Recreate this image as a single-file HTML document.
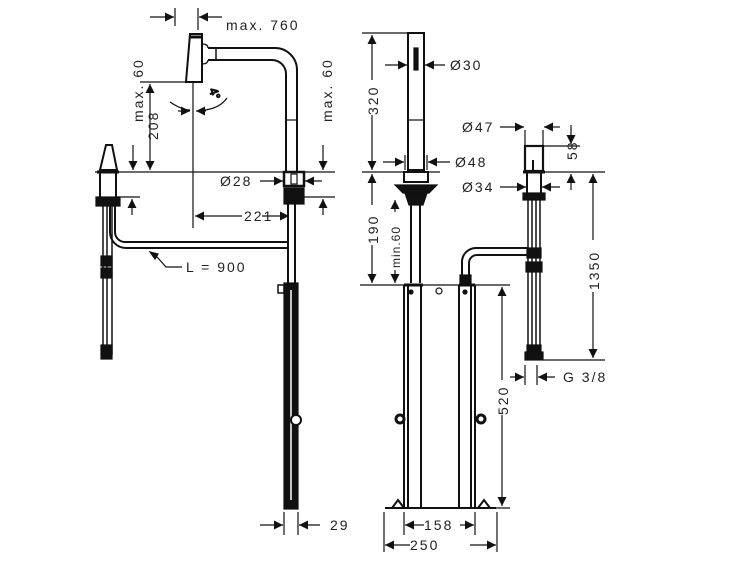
<!DOCTYPE html>
<html><head><style>html,body{margin:0;padding:0;background:#fff}svg{display:block}text{font-family:"Liberation Sans",sans-serif;font-size:14px;fill:#222;letter-spacing:2px}</style></head>
<body>
<svg width="750" height="563" viewBox="0 0 750 563" xmlns="http://www.w3.org/2000/svg">
<defs>
<marker id="a" viewBox="0 0 10 10" refX="10" refY="5" markerWidth="9" markerHeight="9" orient="auto-start-reverse" markerUnits="userSpaceOnUse"><path d="M0,0L10,5L0,10z" fill="#111"/></marker>
</defs>
<g stroke="#111" stroke-width="1.2" fill="none">
<line x1="175" y1="8" x2="175" y2="26"/><line x1="198" y1="8" x2="198" y2="30"/>
<line x1="150" y1="17" x2="174" y2="17" marker-end="url(#a)"/>
<line x1="222" y1="17" x2="199" y2="17" marker-end="url(#a)"/>
<!-- spout head -->
<path d="M190,34h12v48h-16z" stroke-width="2"/>
<line x1="190" y1="37" x2="202" y2="37" stroke-width="3"/>
<path d="M202,44q6,0 6,4M202,64q6,0 6,-4" />
<path d="M208,48H275a22,22 0 0 1 22,22V172M208,60H272a14,14 0 0 1 14,14V172" stroke-width="2"/>
<line x1="216" y1="48" x2="216" y2="60" stroke-width="1.5"/>
<line x1="286" y1="120" x2="297" y2="120"/>
<line x1="193" y1="82" x2="193" y2="228"/>
<path d="M170,102q12,8 20,8M205,110q15,-2 22,-12" />
<line x1="178" y1="111" x2="190" y2="111" marker-end="url(#a)"/>
<line x1="206" y1="111" x2="196" y2="111" marker-end="url(#a)"/>
<text x="210" y="96" transform="rotate(70 214 92)" style="font-size:12px;letter-spacing:0">4°</text>
<line x1="95" y1="172" x2="335" y2="172"/>
<line x1="140" y1="82" x2="195" y2="82"/>
<line x1="150" y1="84" x2="150" y2="170" marker-start="url(#a)" marker-end="url(#a)"/>
<line x1="133" y1="145" x2="133" y2="170" marker-end="url(#a)"/>
<line x1="323" y1="145" x2="323" y2="170" marker-end="url(#a)"/>
<line x1="323" y1="215" x2="323" y2="199" marker-end="url(#a)"/>
<line x1="303" y1="197" x2="335" y2="197"/>
<line x1="132" y1="215" x2="132" y2="199" marker-end="url(#a)"/>
<line x1="117" y1="197" x2="140" y2="197"/>
<rect x="284" y="172" width="20" height="14" stroke-width="2.5"/>
<rect x="291" y="174" width="6" height="10" />
<rect x="284" y="188" width="20" height="16" fill="#111"/>
<line x1="260" y1="181" x2="283" y2="181" marker-end="url(#a)"/>
<line x1="322" y1="181" x2="305" y2="181" marker-end="url(#a)"/>
<line x1="195" y1="216" x2="242" y2="216" marker-start="url(#a)"/>
<line x1="262" y1="216" x2="289" y2="216" marker-end="url(#a)"/>
<path d="M288,204V285M295,204V285" stroke-width="2"/>
<rect x="284" y="283" width="14" height="226" fill="#111"/>
<line x1="291" y1="290" x2="291" y2="500" stroke="#fff" stroke-width="1.5"/>
<circle cx="296" cy="420" r="5" fill="#fff" stroke-width="2"/>
<rect x="278" y="285" width="6" height="8" stroke-width="1.5"/>
<path d="M110,205V232a16,16 0 0 0 16,16H288M115,205V232a10,10 0 0 0 10,10H288" stroke-width="2"/>
<path d="M158,258l-8,-6M158,258l8,9H182" />
<path d="M150,252l8,2l-3,5z" fill="#111"/>
<path d="M100,170l6,-25l6,0l5,25z" stroke-width="2"/>
<line x1="97" y1="172" x2="119" y2="172" stroke-width="3"/>
<path d="M100,172V197M116,172V197" stroke-width="2"/>
<rect x="96" y="197" width="24" height="9" fill="#111"/>
<path d="M103,206V355M107,206V355M112,206V355" stroke-width="1.5"/>
<rect x="101" y="256" width="11" height="10" fill="#111"/>
<rect x="101" y="268" width="11" height="10" fill="#111"/>
<rect x="101" y="345" width="11" height="14" fill="#111"/>
<line x1="284" y1="512" x2="284" y2="535"/><line x1="298" y1="512" x2="298" y2="535"/>
<line x1="260" y1="525" x2="283" y2="525" marker-end="url(#a)"/>
<line x1="320" y1="525" x2="299" y2="525" marker-end="url(#a)"/>

<rect x="408" y="33" width="16" height="137" stroke-width="2"/>
<rect x="414" y="48" width="4" height="22" fill="#111"/>
<line x1="408" y1="120" x2="424" y2="120"/>
<line x1="362" y1="33" x2="410" y2="33"/>
<line x1="372" y1="35" x2="372" y2="80" marker-start="url(#a)"/>
<line x1="372" y1="115" x2="372" y2="170" marker-end="url(#a)"/>
<line x1="362" y1="172" x2="440" y2="172"/>
<line x1="372" y1="174" x2="372" y2="205" marker-start="url(#a)"/>
<line x1="372" y1="245" x2="372" y2="283" marker-end="url(#a)"/>
<line x1="385" y1="65" x2="407" y2="65" marker-end="url(#a)"/>
<line x1="445" y1="65" x2="425" y2="65" marker-end="url(#a)"/>
<line x1="405" y1="155" x2="405" y2="170"/><line x1="427" y1="155" x2="427" y2="170"/>
<line x1="383" y1="162" x2="404" y2="162" marker-end="url(#a)"/>
<line x1="450" y1="162" x2="428" y2="162" marker-end="url(#a)"/>
<rect x="404" y="172" width="24" height="10" stroke-width="2"/>
<path d="M395,185h42l-8,8h-26z" fill="#111"/>
<path d="M405,193h22l-4,12h-14z" fill="#111"/>
<path d="M411,205V283M420,205V283" stroke-width="2"/>
<line x1="395" y1="212" x2="395" y2="200" marker-end="url(#a)"/>
<line x1="395" y1="270" x2="395" y2="283" marker-end="url(#a)"/>
<line x1="360" y1="285" x2="510" y2="285"/>
<path d="M404,285V508M408,285V508M421,285V508M459,285V508M471,285V508M475,285V508" stroke-width="2"/>
<line x1="404" y1="285" x2="423" y2="285" stroke-width="3"/>
<line x1="459" y1="285" x2="475" y2="285" stroke-width="3"/>
<circle cx="411" cy="292" r="2" fill="#111"/><circle cx="465" cy="292" r="2" fill="#111"/>
<circle cx="439" cy="291" r="3"/>
<circle cx="400" cy="419" r="4" stroke-width="3"/><circle cx="481" cy="419" r="4" stroke-width="3"/>
<path d="M385,508H496" stroke-width="2"/>
<path d="M392,508l6,-8l6,8M478,508l6,-8l6,8" stroke-width="2"/>
<line x1="480" y1="508" x2="510" y2="508"/>
<line x1="502" y1="287" x2="502" y2="380" marker-start="url(#a)"/>
<line x1="502" y1="415" x2="502" y2="506" marker-end="url(#a)"/>
<path d="M404,512V535M475,512V535M384,512V552M497,512V552"/>
<line x1="416" y1="525" x2="405" y2="525" marker-end="url(#a)"/>
<line x1="424" y1="525" x2="416" y2="525"/>
<line x1="460" y1="525" x2="474" y2="525" marker-end="url(#a)"/>
<line x1="410" y1="545" x2="385" y2="545" marker-end="url(#a)"/>
<line x1="470" y1="545" x2="496" y2="545" marker-end="url(#a)"/>
<path d="M462,285V262a14,14 0 0 1 14,-14H528M469,285V263a8,8 0 0 1 8,-8H528" stroke-width="2"/>
<rect x="460" y="275" width="11" height="10" fill="#111"/>
<rect x="525" y="146" width="18" height="25" stroke-width="2.2"/>
<line x1="533" y1="160" x2="533" y2="170" stroke-width="2"/>
<line x1="523" y1="172" x2="545" y2="172" stroke-width="3"/>
<path d="M527,172V193M541,172V193" stroke-width="2"/>
<rect x="523" y="193" width="22" height="7" fill="#111"/>
<path d="M528,200V352M532,200V352M536,200V352M540,200V352" stroke-width="1.5"/>
<rect x="527" y="248" width="14" height="10" fill="#111"/>
<rect x="526" y="262" width="16" height="10" fill="#111"/>
<rect x="527" y="345" width="14" height="8" fill="#111"/>
<rect x="525" y="352" width="18" height="8" fill="#111"/>
<path d="M525,130V145M543,130V145M525,365V385M537,365V385"/>
<line x1="500" y1="127" x2="524" y2="127" marker-end="url(#a)"/>
<line x1="560" y1="127" x2="544" y2="127" marker-end="url(#a)"/>
<line x1="543" y1="146" x2="580" y2="146"/>
<line x1="571" y1="125" x2="571" y2="144" marker-end="url(#a)"/>
<line x1="571" y1="190" x2="571" y2="174" marker-end="url(#a)"/>
<line x1="543" y1="172" x2="605" y2="172"/>
<line x1="500" y1="187" x2="526" y2="187" marker-end="url(#a)"/>
<line x1="560" y1="187" x2="542" y2="187" marker-end="url(#a)"/>
<line x1="593" y1="174" x2="593" y2="240" marker-start="url(#a)"/>
<line x1="593" y1="292" x2="593" y2="358" marker-end="url(#a)"/>
<line x1="543" y1="360" x2="605" y2="360"/>
<line x1="510" y1="377" x2="524" y2="377" marker-end="url(#a)"/>
<line x1="555" y1="377" x2="538" y2="377" marker-end="url(#a)"/>
</g>
<text x="226" y="30">max. 760</text>
<text x="143" y="122" transform="rotate(-90 143 122)">max. 60</text>
<text x="158" y="140" transform="rotate(-90 158 140)">208</text>
<text x="332" y="122" transform="rotate(-90 332 122)">max. 60</text>
<text x="220" y="186">Ø28</text>
<text x="244" y="221">221</text>
<text x="186" y="272">L = 900</text>
<text x="330" y="530">29</text>
<text x="450" y="70">Ø30</text>
<text x="378" y="115" transform="rotate(-90 378 115)">320</text>
<text x="455" y="167">Ø48</text>
<text x="378" y="244" transform="rotate(-90 378 244)">190</text>
<text x="400" y="268" transform="rotate(-90 400 268)" style="font-size:12px;letter-spacing:1px">min.60</text>
<text x="508" y="415" transform="rotate(-90 508 415)">520</text>
<text x="424" y="530">158</text>
<text x="410" y="550">250</text>
<text x="462" y="132">Ø47</text>
<text x="577" y="160" transform="rotate(-90 577 160)">58</text>
<text x="462" y="192">Ø34</text>
<text x="599" y="290" transform="rotate(-90 599 290)">1350</text>
<text x="563" y="382">G 3/8</text>
</svg>
</body></html>
